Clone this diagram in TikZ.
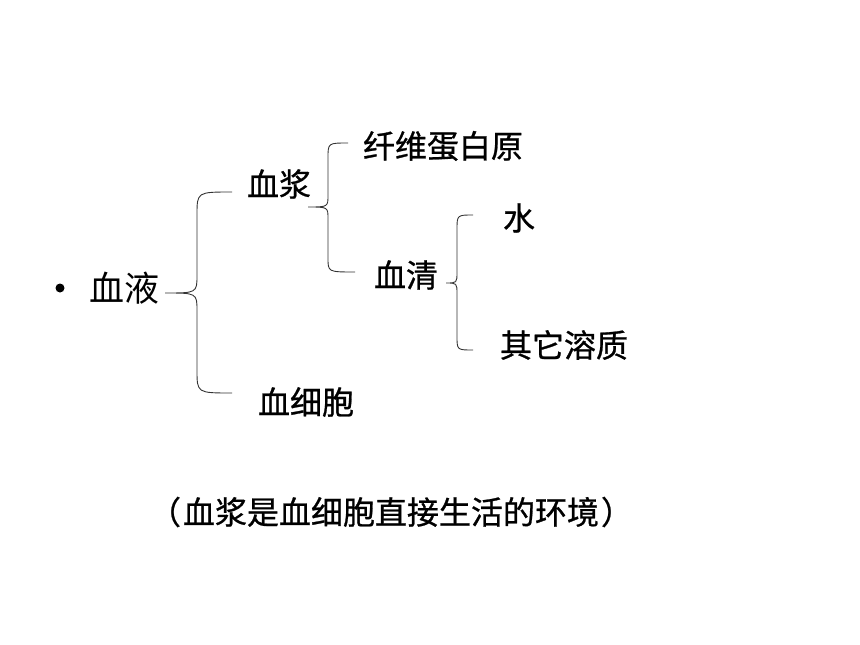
\documentclass[tikz,border=0pt]{standalone}
\usepackage{fontspec}
\newfontfamily\cjk[FakeBold=0.8]{Noto Sans CJK SC}
\newfontfamily\cjkl{Noto Sans CJK SC}
\begin{document}
\begin{tikzpicture}[x=1pt,y=-1pt,
  lbl/.style={inner sep=0pt,font=\cjk\fontsize{32}{32}\selectfont},
  big/.style={inner sep=0pt,font=\cjkl\fontsize{35}{35}\selectfont},
  brace/.style={draw=black!80,line width=0.9pt}]
\useasboundingbox (0,0) rectangle (860,645);
\fill (60,288) circle (4.5);
\node[big] (xy) at (124,288) {血液};
\node[lbl] (xj) at (279,184) {血浆};
\node[lbl] (xxb) at (306,402) {血细胞};
\node[lbl] (xw) at (443,146) {纤维蛋白原};
\node[lbl] (xq) at (406,275) {血清};
\node[lbl] (sh) at (519,218) {水};
\node[lbl] (qt) at (564,345) {其它溶质};
\node[lbl] (cap) at (391,512) {（\hspace{2pt}血浆是血细胞直接生活的环境\hspace{2pt}）};
% brace 1
\draw[brace] (232,192) .. controls (197,192) .. (197,215) -- (197,275)
  .. controls (197,293) .. (165,293) .. controls (197,293) .. (197,311)
  -- (197,370) .. controls (197,393) .. (232,393);
% brace 2
\draw[brace] (348,143) .. controls (328,143) .. (328,158) -- (328,195)
  .. controls (328,207) .. (308,207) .. controls (328,207) .. (328,219)
  -- (328,258) .. controls (328,272) .. (355,272);
% brace 3
\draw[brace] (473,215) .. controls (457,215) .. (457,230) -- (457,272)
  .. controls (457,283) .. (446,283) .. controls (457,283) .. (457,294)
  -- (457,336) .. controls (457,350) .. (473,350);
\end{tikzpicture}
\end{document}
